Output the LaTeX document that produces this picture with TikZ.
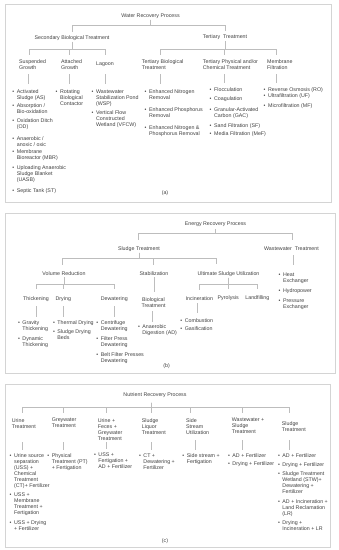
\documentclass[tikz,border=0pt]{standalone}
\usepackage{fontspec}
\setmainfont{Liberation Sans}
\definecolor{txt}{HTML}{404040}
\definecolor{lgray}{HTML}{BDBDBD}
\definecolor{fgray}{HTML}{D4D4D4}
\newcommand{\fs}{\fontsize{5.3}{6}\selectfont}
\newenvironment{blist}{\begin{tabular}{@{}l@{\hspace{2.6pt}}l@{}}}{\end{tabular}}

\begin{document}
\begin{tikzpicture}[
    x=1pt, y=-1pt,
    lbl/.style={font=\fs, text=txt, inner sep=0pt, align=left},
    grp/.style={lbl, anchor=north west},
    lst/.style={font=\fs, text=txt, inner sep=0pt, anchor=north west},
    ln/.style={draw=lgray, line width=0.45pt},
    frm/.style={draw=fgray, line width=0.7pt}
]
\useasboundingbox (0,0) rectangle (339,550);

% (a) water recovery
\draw[frm] (5,4) rectangle (331,202);
\node[lbl] (water) at (150.5,16) {Water Recovery Process};
\node[lbl] (sec) at (72,37.7) {Secondary Biological Treatment};
\node[lbl] (tert) at (225,37.3) {Tertiary\ \ Treatment};
\node[grp] (susp) at (19,59) {Suspended\\Growth};
\node[grp] (att) at (61,59) {Attached\\Growth};
\node[lbl] (lag) at (105,64.3) {Lagoon};
\node[grp] (tbio) at (141.7,59) {Tertiary Biological\\Treatment};
\node[grp] (phys) at (202.7,59) {Tertiary Physical and/or\\Chemical Treatment};
\node[grp] (memb) at (267,59) {Membrane\\Filtration};

\node[lst] (suspL) at (12.2,88.7) {\begin{blist}
\textbullet & Activated\\ & Sludge (AS)\\[2.3pt]
\textbullet & Absorption /\\ & Bio-oxidation\\[3.3pt]
\textbullet & Oxidation Ditch\\ & (OD)\\[5.3pt]
\textbullet & Anaerobic /\\ & anoxic / oxic\\[1.7pt]
\textbullet & Membrane\\ & Bioreactor (MBR)\\[4pt]
\textbullet & Uploading Anaerobic\\ & Sludge Blanket\\ & (UASB)\\[5pt]
\textbullet & Septic Tank (ST)
\end{blist}};
\node[lst] (attL) at (55.5,88.7) {\begin{blist}
\textbullet & Rotating\\ & Biological\\ & Contactor
\end{blist}};
\node[lst] (lagL) at (91.5,88.7) {\begin{blist}
\textbullet & Wastewater\\ & Stabilization Pond\\ & (WSP)\\[3.5pt]
\textbullet & Vertical Flow\\ & Constructed\\ & Wetland (VFCW)
\end{blist}};
\node[lst] (tbioL) at (144.5,88.7) {\begin{blist}
\textbullet & Enhanced Nitrogen\\ & Removal\\[6pt]
\textbullet & Enhanced Phosphorus\\ & Removal\\[6pt]
\textbullet & Enhanced Nitrogen \&\\ & Phosphorus Removal
\end{blist}};
\node[lst] (physL) at (209.5,87.5) {\begin{blist}
\textbullet & Flocculation\\[3pt]
\textbullet & Coagulation\\[4.3pt]
\textbullet & Granular-Activated\\ & Carbon (GAC)\\[4pt]
\textbullet & Sand Filtration (SF)\\[2.4pt]
\textbullet & Media Filtration (MeF)
\end{blist}};
\node[lst] (membL) at (263.5,87.5) {\begin{blist}
\textbullet & Reverse Osmosis (RO)\\
\textbullet & Ultrafiltration (UF)\\[4pt]
\textbullet & Microfiltration (MF)
\end{blist}};
\node[lbl] (capa) at (165,193) {(a)};

\draw[ln, shorten <=1pt, shorten >=3.5pt] (water.south) -- ++(0,6.5) -| (sec.north);
\draw[ln, shorten <=1pt, shorten >=3.5pt] (water.south) -- ++(0,6.5) -| (tert.north);
\foreach \c/\dx in {susp/10pt, att/8pt}
  \draw[ln, shorten <=1.5pt, shorten >=4pt] (sec.south) -- ++(0,8.8) -| ([xshift=\dx]\c.north west);
\draw[ln, shorten <=1.5pt, shorten >=6.8pt] (sec.south) -- ++(0,8.8) -| (lag.north);
\foreach \c/\dx in {tbio/19pt, phys/21.3pt, memb/9.7pt}
  \draw[ln, shorten <=1.5pt, shorten >=4pt] (tert.south) -- ++(0,9.2) -| ([xshift=\dx]\c.north west);
\foreach \c/\l/\dx in {susp/suspL/9pt, att/attL/8pt, tbio/tbioL/19pt, phys/physL/21.3pt, memb/membL/9.7pt}
  \draw[ln, shorten <=5pt, shorten >=5pt] ([xshift=\dx]\c.south west) -- ([xshift=\dx]\c.south west |- \l.north);
\draw[ln, shorten <=7.5pt, shorten >=5pt] (lag.south) -- (lag.south |- lagL.north);

% (b) energy recovery
\draw[frm] (5,213) rectangle (335,373);
\node[lbl] (energy) at (215.5,224) {Energy Recovery Process};
\node[lbl] (sludge) at (139,249) {Sludge Treatment};
\node[lbl] (wwt) at (291.5,248.3) {Wastewater\ \ Treatment};
\node[lbl] (volred) at (64,274) {Volume Reduction};
\node[lbl] (stab) at (154,274) {Stabilization};
\node[lbl] (ult) at (228.5,274) {Ultimate Sludge Utilization};
\node[lbl] (thick) at (36,299.3) {Thickening};
\node[lbl] (dry) at (63.3,299.3) {Drying};
\node[lbl] (dew) at (114.3,299.3) {Dewatering};
\node[lbl, align=center] (bio) at (153.5,302.3) {Biological\\Treatment};
\node[lbl] (incin) at (199.3,298.3) {Incineration};
\node[lbl] (pyro) at (228.3,298.3) {Pyrolysis};
\node[lbl] (land) at (257.3,298.3) {Landfilling};

\node[lst] (wwtL) at (278.5,271.7) {\begin{blist}
\textbullet & Heat\\ & Exchanger\\[4pt]
\textbullet & Hydropower\\[4.3pt]
\textbullet & Pressure\\ & Exchanger
\end{blist}};
\node[lst] (thickL) at (17.8,320.4) {\begin{blist}
\textbullet & Gravity\\ & Thickening\\[4pt]
\textbullet & Dynamic\\ & Thickening
\end{blist}};
\node[lst] (dryL) at (52.8,320.4) {\begin{blist}
\textbullet & Thermal Drying\\[2.3pt]
\textbullet & Sludge Drying\\ & Beds
\end{blist}};
\node[lst] (dewL) at (96.2,320.4) {\begin{blist}
\textbullet & Centrifuge\\ & Dewatering\\[3.7pt]
\textbullet & Filter Press\\ & Dewatering\\[3.7pt]
\textbullet & Belt Filter Presses\\ & Dewatering
\end{blist}};
\node[lst] (bioL) at (137.8,324.4) {\begin{blist}
\textbullet & Anaerobic\\ & Digestion (AD)
\end{blist}};
\node[lst] (incinL) at (180.2,317.7) {\begin{blist}
\textbullet & Combustion\\[2.3pt]
\textbullet & Gasification
\end{blist}};
\node[lbl] (capb) at (166.7,366) {(b)};

\draw[ln, shorten <=2.5pt, shorten >=6.5pt] (energy.south) -- ++(0,6.8) -| ([xshift=-0.7pt]sludge.north);
\draw[ln, shorten <=2.5pt, shorten >=6.5pt] (energy.south) -- ++(0,6.8) -| ([xshift=0.8pt]wwt.north);
\foreach \c/\dx in {volred/-1.7pt, stab/-0.7pt, ult/-12.5pt}
  \draw[ln, shorten <=1pt, shorten >=7pt] (sludge.south) -- ++(0,7) -| ([xshift=\dx]\c.north);
\foreach \c in {thick, dry, dew}
  \draw[ln, shorten <=1.3pt, shorten >=7.3pt] (volred.south) -- ++(0,8) -| (\c.north);
\draw[ln, shorten <=1pt, shorten >=5pt] (stab.south) -- (stab.south |- bio.north);
\foreach \c in {incin, pyro, land}
  \draw[ln, shorten <=1pt, shorten >=6.4pt] (ult.south) -- ++(0,7.6) -| (\c.north);
\draw[ln, shorten <=4.8pt, shorten >=6.7pt] ([xshift=1.8pt]wwt.south) -- ([xshift=1.8pt]wwt.south |- wwtL.north);
\foreach \c/\l in {thick/thickL, dry/dryL, dew/dewL}
  \draw[ln, shorten <=4.4pt, shorten >=3.7pt] (\c.south) -- (\c.south |- \l.north);
\draw[ln, shorten <=4pt, shorten >=2.7pt] ([xshift=-1.2pt]bio.south) -- ([xshift=-1.2pt]bio.south |- bioL.north);
\draw[ln, shorten <=2.8pt, shorten >=4.7pt] ([xshift=-2pt]incin.south) -- ([xshift=-2pt]incin.south |- incinL.north);

% (c) nutrient recovery
\draw[frm] (5,384) rectangle (330,547);
\node[lbl] (nutr) at (155,395) {Nutrient Recovery Process};
\node[grp] (urineT) at (11.7,418) {Urine\\Treatment};
\node[grp] (greyT) at (51.7,418) {Greywater\\Treatment};
\node[grp] (ufgT) at (97.7,418) {Urine +\\Feces +\\Greywater\\Treatment};
\node[grp] (sliqT) at (141.7,418) {Sludge\\Liquor\\Treatment};
\node[grp] (sideT) at (186,418) {Side\\Stream\\Utilization};
\node[grp] (wsT) at (231.7,418) {Wastewater +\\Sludge\\Treatment};
\node[grp] (stT) at (281.7,421.3) {Sludge\\Treatment};

\node[lst] (urineL) at (9.5,452.7) {\begin{blist}
\textbullet & Urine source\\ & separation\\ & (USS) +\\ & Chemical\\ & Treatment\\ & (CT)+ Fertilizer\\[3.7pt]
\textbullet & USS +\\ & Membrane\\ & Treatment +\\ & Fertigation\\[3.7pt]
\textbullet & USS + Drying\\ & + Fertilizer
\end{blist}};
\node[lst] (greyL) at (47.2,452.7) {\begin{blist}
\textbullet & Physical\\ & Treatment (PT)\\ & + Fertigation
\end{blist}};
\node[lst] (ufgL) at (93.8,452) {\begin{blist}
\textbullet & USS +\\ & Fertigation +\\ & AD + Fertilizer
\end{blist}};
\node[lst] (sliqL) at (138.8,452.7) {\begin{blist}
\textbullet & CT +\\ & Dewatering +\\ & Fertilizer
\end{blist}};
\node[lst] (sideL) at (182.2,452.7) {\begin{blist}
\textbullet & Side stream +\\ & Fertigation
\end{blist}};
\node[lst] (wsL) at (227.8,452.7) {\begin{blist}
\textbullet & AD + Fertilizer\\[2.3pt]
\textbullet & Drying + Fertilizer
\end{blist}};
\node[lst] (stL) at (277.8,452.7) {\begin{blist}
\textbullet & AD + Fertilizer\\[3.4pt]
\textbullet & Drying + Fertilizer\\[3.4pt]
\textbullet & Sludge Treatment\\ & Wetland (STW)+\\ & Dewatering +\\ & Fertilizer\\[3.4pt]
\textbullet & AD + Incineration +\\ & Land Reclamation\\ & (LR)\\[3.4pt]
\textbullet & Drying +\\ & Incineration + LR
\end{blist}};
\node[lbl] (capc) at (165,540.7) {(c)};

\foreach \c/\dx/\sh in {urineT/11pt/4.7pt, greyT/11.6pt/4.7pt, ufgT/8.3pt/4.7pt, sliqT/10pt/4.7pt, sideT/4.7pt/4.7pt, wsT/11pt/4.7pt, stT/7.6pt/8pt}
  \draw[ln, shorten <=5pt, shorten >=\sh] ([xshift=-3.3pt]nutr.south) -- ++(0,9.3) -| ([xshift=\dx]\c.north west);
\foreach \c/\l/\dx/\sh in {urineT/urineL/11pt/14pt, greyT/greyL/11.6pt/14pt, ufgT/ufgL/8.3pt/1.8pt, sliqT/sliqL/10pt/8pt, sideT/sideL/9pt/6pt, wsT/wsL/11pt/6pt, stT/stL/7.6pt/8.8pt}
  \draw[ln, shorten <=\sh, shorten >=3.2pt] ([xshift=\dx]\c.south west) -- ([xshift=\dx]\c.south west |- \l.north);
\end{tikzpicture}
\end{document}
